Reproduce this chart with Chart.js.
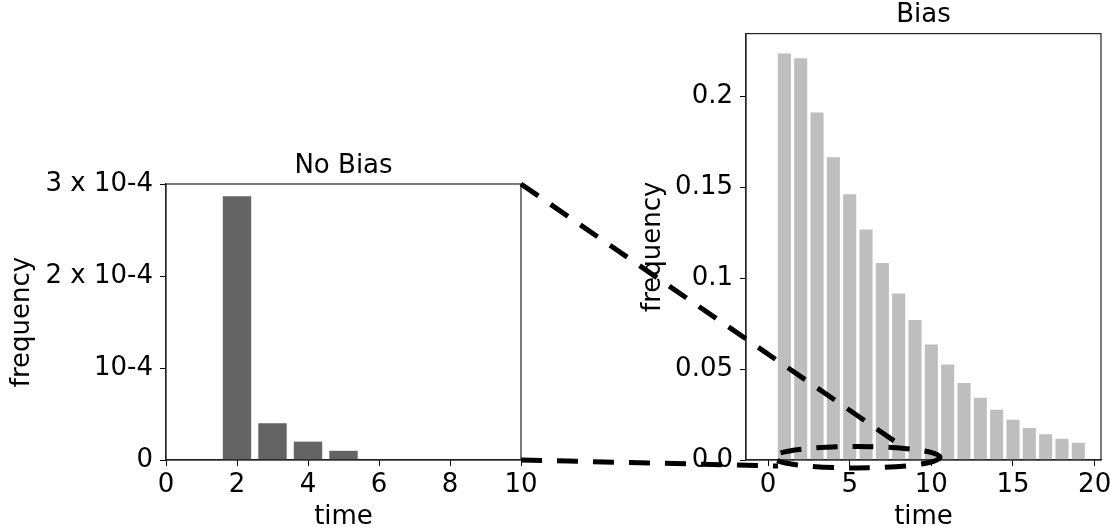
<!DOCTYPE html>
<html>
<head>
<meta charset="utf-8">
<script src="https://cdn.jsdelivr.net/npm/chart.js@4/dist/chart.umd.min.js"></script>
<style>
  html, body { margin: 0; padding: 0; background: #fff; }
  #wrap { position: relative; width: 1116px; height: 531px; }
  canvas { position: absolute; top: 0; }
</style>
</head>
<body>
<div id="wrap">
  <canvas id="left" width="560" height="531" style="left:0"></canvas>
  <canvas id="right" width="526" height="531" style="left:590px"></canvas>
  <canvas id="links" width="1116" height="531" style="left:0;pointer-events:none"></canvas>
</div>
<script>
// No Bias panel
const noBiasTimes = [2, 3, 4, 5];
const noBiasFreq = [2.866e-4, 0.40e-4, 0.20e-4, 0.10e-4];
const noBiasXTicks = [0, 2, 4, 6, 8, 10];
const noBiasYTicks = [0, 1e-4, 2e-4, 3e-4];
const noBiasYLabels = ['0', '10-4', '2 x 10-4', '3 x 10-4'];

// Bias panel
const biasTimes = [1, 2, 3, 4, 5, 6, 7, 8, 9, 10, 11, 12, 13, 14, 15, 16, 17, 18, 19];
const biasFreq = [0.2233, 0.2207, 0.1909, 0.1663, 0.1460, 0.1267, 0.1083, 0.0915, 0.0769, 0.0635,
                  0.0525, 0.0423, 0.0342, 0.0276, 0.0221, 0.0176, 0.0141, 0.0117, 0.0095];
const biasXTicks = [0, 5, 10, 15, 20];
const biasYTicks = [0, 0.05, 0.1, 0.15, 0.2];
const biasYLabels = ['0.0', '0.05', '0.1', '0.15', '0.2'];

// zoom connectors (data units): left panel corner -> right panel point
const linkFrom = [[10, 3e-4], [10, 0]];
const linkTo = [[8.45, 0.006], [0.61, -0.0033]];
const zoomCenter = [5.42, 0.0015];
const zoomRadius = [5.11, 0.0059];

Chart.defaults.font.family = 'DejaVu Sans';
Chart.defaults.font.size = 26;
Chart.defaults.color = '#000';

// matplotlib-like box round the plot area
const frame = {
  id: 'frame',
  afterDatasetsDraw(chart) {
    const { ctx, chartArea: a } = chart;
    ctx.save();
    ctx.strokeStyle = '#222';
    ctx.lineWidth = 1.2;
    ctx.strokeRect(a.left, a.top, a.right - a.left, a.bottom - a.top);
    ctx.restore();
  }
};

function makeChart(id, cfg) {
  return new Chart(document.getElementById(id), {
    type: 'bar',
    data: {
      datasets: [{
        data: cfg.xs.map((x, i) => ({ x: x, y: cfg.ys[i] })),
        backgroundColor: cfg.color,
        borderWidth: 0,
        categoryPercentage: 0.8,
        barPercentage: 1.0
      }]
    },
    options: {
      responsive: false,
      animation: false,
      layout: { padding: cfg.padding },
      plugins: {
        legend: { display: false },
        tooltip: { enabled: false },
        title: {
          display: true, text: cfg.title, fullSize: false,
          font: { size: 26, weight: 'normal' }, color: '#000',
          padding: { top: 0, bottom: 2.4 }
        }
      },
      scales: {
        x: {
          type: 'linear',
          min: cfg.xmin, max: cfg.xmax,
          offset: false,
          grid: { display: true, drawOnChartArea: false, drawTicks: true, tickLength: 6, color: '#000', offset: false },
          border: { display: true, color: '#222', width: 1.2 },
          ticks: { padding: 4, maxRotation: 0, autoSkip: false },
          afterBuildTicks: s => { s.ticks = cfg.xticks.map(v => ({ value: v })); },
          afterFit: s => { s.height = cfg.xHeight; },
          title: { display: true, text: 'time', font: { lineHeight: 1 }, padding: { top: 0, bottom: 1 } }
        },
        y: {
          min: 0, max: cfg.ymax,
          grid: { display: true, drawOnChartArea: false, drawTicks: true, tickLength: 6, color: '#000' },
          border: { display: true, color: '#222', width: 1.2 },
          ticks: { padding: 7, autoSkip: false, callback: (v, i) => cfg.ylabels[i] },
          afterBuildTicks: s => { s.ticks = cfg.yticks.map(v => ({ value: v })); },
          afterFit: s => { s.width = cfg.yWidth; },
          title: { display: true, text: 'frequency', padding: { top: cfg.yTitlePad, bottom: 0 } }
        }
      }
    },
    plugins: [frame]
  });
}

const leftChart = makeChart('left', {
  xs: noBiasTimes, ys: noBiasFreq, color: '#646464', title: 'No Bias',
  xmin: 0, xmax: 10, ymax: 3e-4,
  xticks: noBiasXTicks, yticks: noBiasYTicks, ylabels: noBiasYLabels,
  padding: { top: 150.4, right: 39, bottom: 0, left: 0 },
  xHeight: 71, yWidth: 166, yTitlePad: 6.5
});

const rightChart = makeChart('right', {
  xs: biasTimes, ys: biasFreq, color: '#bebebe', title: 'Bias',
  xmin: -1.35, xmax: 20.39, ymax: 0.2343,
  xticks: biasXTicks, yticks: biasYTicks, ylabels: biasYLabels,
  padding: { top: 0, right: 15, bottom: 0, left: 0 },
  xHeight: 71, yWidth: 156, yTitlePad: 47.4
});

// dashed zoom connectors, placed through each chart's own scales
const leftOffset = 0, rightOffset = 590;
const lp = (x, y) => [leftOffset + leftChart.scales.x.getPixelForValue(x), leftChart.scales.y.getPixelForValue(y)];
const rp = (x, y) => [rightOffset + rightChart.scales.x.getPixelForValue(x), rightChart.scales.y.getPixelForValue(y)];

const ctx = document.getElementById('links').getContext('2d');
ctx.strokeStyle = '#000';
ctx.lineWidth = 5;
ctx.lineCap = 'butt';
ctx.setLineDash([21, 15]);
linkFrom.forEach((f, i) => {
  const a = lp(f[0], f[1]);
  const b = rp(linkTo[i][0], linkTo[i][1]);
  ctx.beginPath();
  ctx.moveTo(a[0], a[1]);
  ctx.lineTo(b[0], b[1]);
  ctx.stroke();
});
const c = rp(zoomCenter[0], zoomCenter[1]);
const e = rp(zoomCenter[0] + zoomRadius[0], zoomCenter[1] - zoomRadius[1]);
ctx.beginPath();
ctx.ellipse(c[0], c[1], e[0] - c[0], e[1] - c[1], 0, 0, Math.PI * 2);
ctx.stroke();
</script>
</body>
</html>
